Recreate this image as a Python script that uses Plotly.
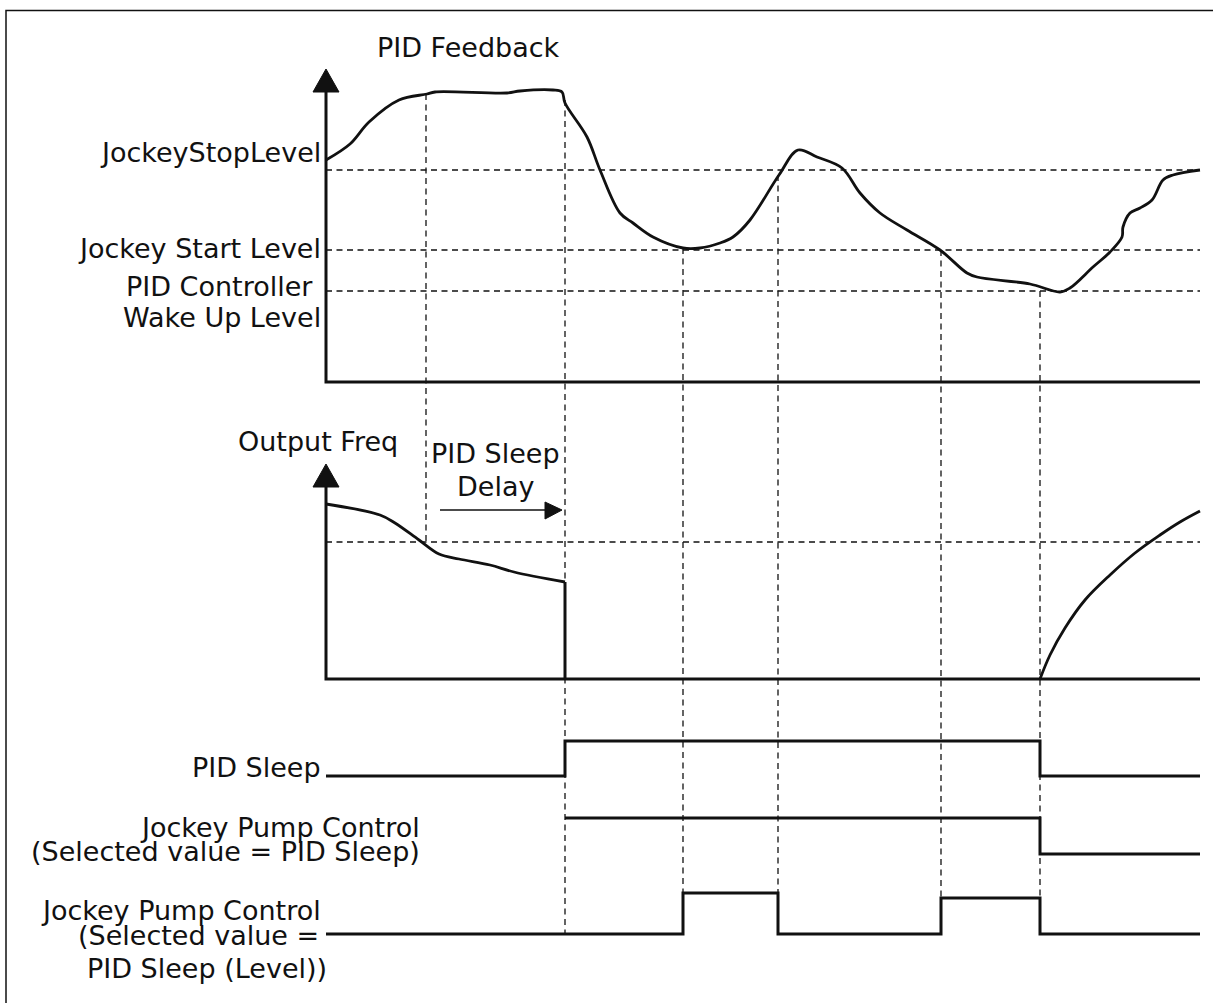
import plotly.graph_objects as go

# time marks where the vertical guides fall (x, px-scale units)
event_t = [426, 565, 683, 778, 941, 1040]
t_start, t_end = 326, 1200

# PID feedback levels
stop_level, start_level, wake_level = 170, 250, 291
fb_t = [326, 350, 369, 399, 427, 435, 507, 520, 553, 562, 565, 587, 600, 620, 633,
        653, 683, 700, 720, 733, 750, 779, 798, 817, 842, 860, 880, 907, 940, 967,
        977, 1030, 1060, 1070, 1093, 1110, 1122, 1123, 1130, 1140, 1152, 1163, 1173, 1200]
fb_v = [160, 144, 122, 100, 94, 92, 93, 91, 90, 92, 103, 137, 170, 213, 223,
        237, 248, 248, 243, 237, 220, 175, 150, 157, 168, 193, 213, 230, 250, 273,
        277, 284, 292, 288, 267, 252, 237, 227, 213, 208, 200, 180, 175, 170]

# output frequency
freq_level = 542
of_t1 = [326, 380, 395, 419, 439, 459, 490, 514, 565]
of_v1 = [504, 515, 523, 540, 554, 559, 565, 572, 582]
of_drop_t = [565, 565]
of_drop_v = [582, 679]
of_t2 = [1040, 1050, 1065, 1085, 1110, 1135, 1160, 1180, 1200]
of_v2 = [679, 655, 628, 600, 575, 553, 535, 522, 511]

# digital signals
sleep_t = [326, 565, 565, 1040, 1040, 1200]
sleep_v = [776, 776, 741, 741, 776, 776]
jp1_t = [565, 1040, 1040, 1200]
jp1_v = [818, 818, 854, 854]
jp2_t = [326, 683, 683, 778, 778, 941, 941, 1040, 1040, 1200]
jp2_v = [934, 934, 893, 893, 934, 934, 898, 898, 934, 934]

BLACK = "#111111"
FONT = dict(family="DejaVu Sans, Verdana, sans-serif", size=27, color=BLACK)
DASH = dict(color=BLACK, width=1.3, dash="6px,4.5px")
SOLID = dict(color=BLACK, width=3)

fig = go.Figure()


def line(x, y, style, shape="linear"):
    fig.add_trace(go.Scatter(x=x, y=y, mode="lines", line=dict(style, shape=shape),
                             hoverinfo="skip", showlegend=False))


# horizontal dashed guides
for lvl in [stop_level, start_level, wake_level, freq_level]:
    line([t_start, t_end], [lvl, lvl], DASH)

# vertical dashed guides (top end on the feedback curve, bottom end at the signal)
v_tops = [94, 100, 248, 175, 250, 291]
v_bots = [freq_level, 934, 893, 893, 898, 934]
for t, a, b in zip(event_t, v_tops, v_bots):
    line([t, t], [a, b], DASH)

# axes of the two analog panels
line([t_start, t_start, t_end], [88, 382, 382], SOLID)
line([t_start, t_start, t_end], [484, 679, 679], SOLID)
for tip in [69, 464]:
    fig.add_trace(go.Scatter(x=[313, 326, 339, 313], y=[tip + 23, tip, tip + 23, tip + 23],
                             mode="lines", fill="toself", fillcolor=BLACK,
                             line=dict(color=BLACK, width=1), hoverinfo="skip",
                             showlegend=False))

# curves
curve = dict(color=BLACK, width=2.8)
line(fb_t, fb_v, curve, shape="spline")
line(of_t1, of_v1, curve, shape="spline")
line(of_drop_t, of_drop_v, SOLID)
line(of_t2, of_v2, curve, shape="spline")

# signals
line(sleep_t, sleep_v, SOLID)
line(jp1_t, jp1_v, SOLID)
line(jp2_t, jp2_v, SOLID)

# sleep delay arrow
line([440, 548], [510, 510], dict(color=BLACK, width=1.6))
fig.add_trace(go.Scatter(x=[545, 562, 545, 545], y=[502, 510, 519, 502], mode="lines",
                         fill="toself", fillcolor=BLACK, line=dict(color=BLACK, width=1),
                         hoverinfo="skip", showlegend=False))

# border
fig.add_shape(type="rect", x0=6, y0=10.5, x1=1225, y1=1015,
              line=dict(color=BLACK, width=1.5), layer="below")

labels = [
    ("PID Feedback", 468, 47, "center"),
    ("JockeyStopLevel", 323, 152, "right"),
    ("Jockey Start Level", 323, 248, "right"),
    ("PID Controller\u00a0", 323, 286, "right"),
    ("Wake Up Level", 323, 317, "right"),
    ("Output Freq", 318, 441, "center"),
    ("PID Sleep", 495, 453, "center"),
    ("Delay", 495, 486, "center"),
    ("PID Sleep", 323, 767, "right"),
    ("Jockey Pump Control", 422, 827, "right"),
    ("(Selected value = PID Sleep)", 422, 851, "right"),
    ("Jockey Pump Control", 323, 910, "right"),
    ("(Selected value =", 321, 935, "right"),
    ("PID Sleep (Level))", 85, 968, "left"),
]
for txt, x, y, anc in labels:
    fig.add_annotation(x=x, y=y, text=txt, showarrow=False, xanchor=anc,
                       yanchor="middle", font=FONT)

fig.update_layout(
    width=1213, height=1003, margin=dict(l=0, r=0, t=0, b=0),
    paper_bgcolor="white", plot_bgcolor="white",
    xaxis=dict(range=[0, 1213], visible=False, fixedrange=True),
    yaxis=dict(range=[1003, 0], visible=False, fixedrange=True),
)
fig.write_html("out.html", config={"displayModeBar": False},
               post_script="document.body.style.margin='0';")
